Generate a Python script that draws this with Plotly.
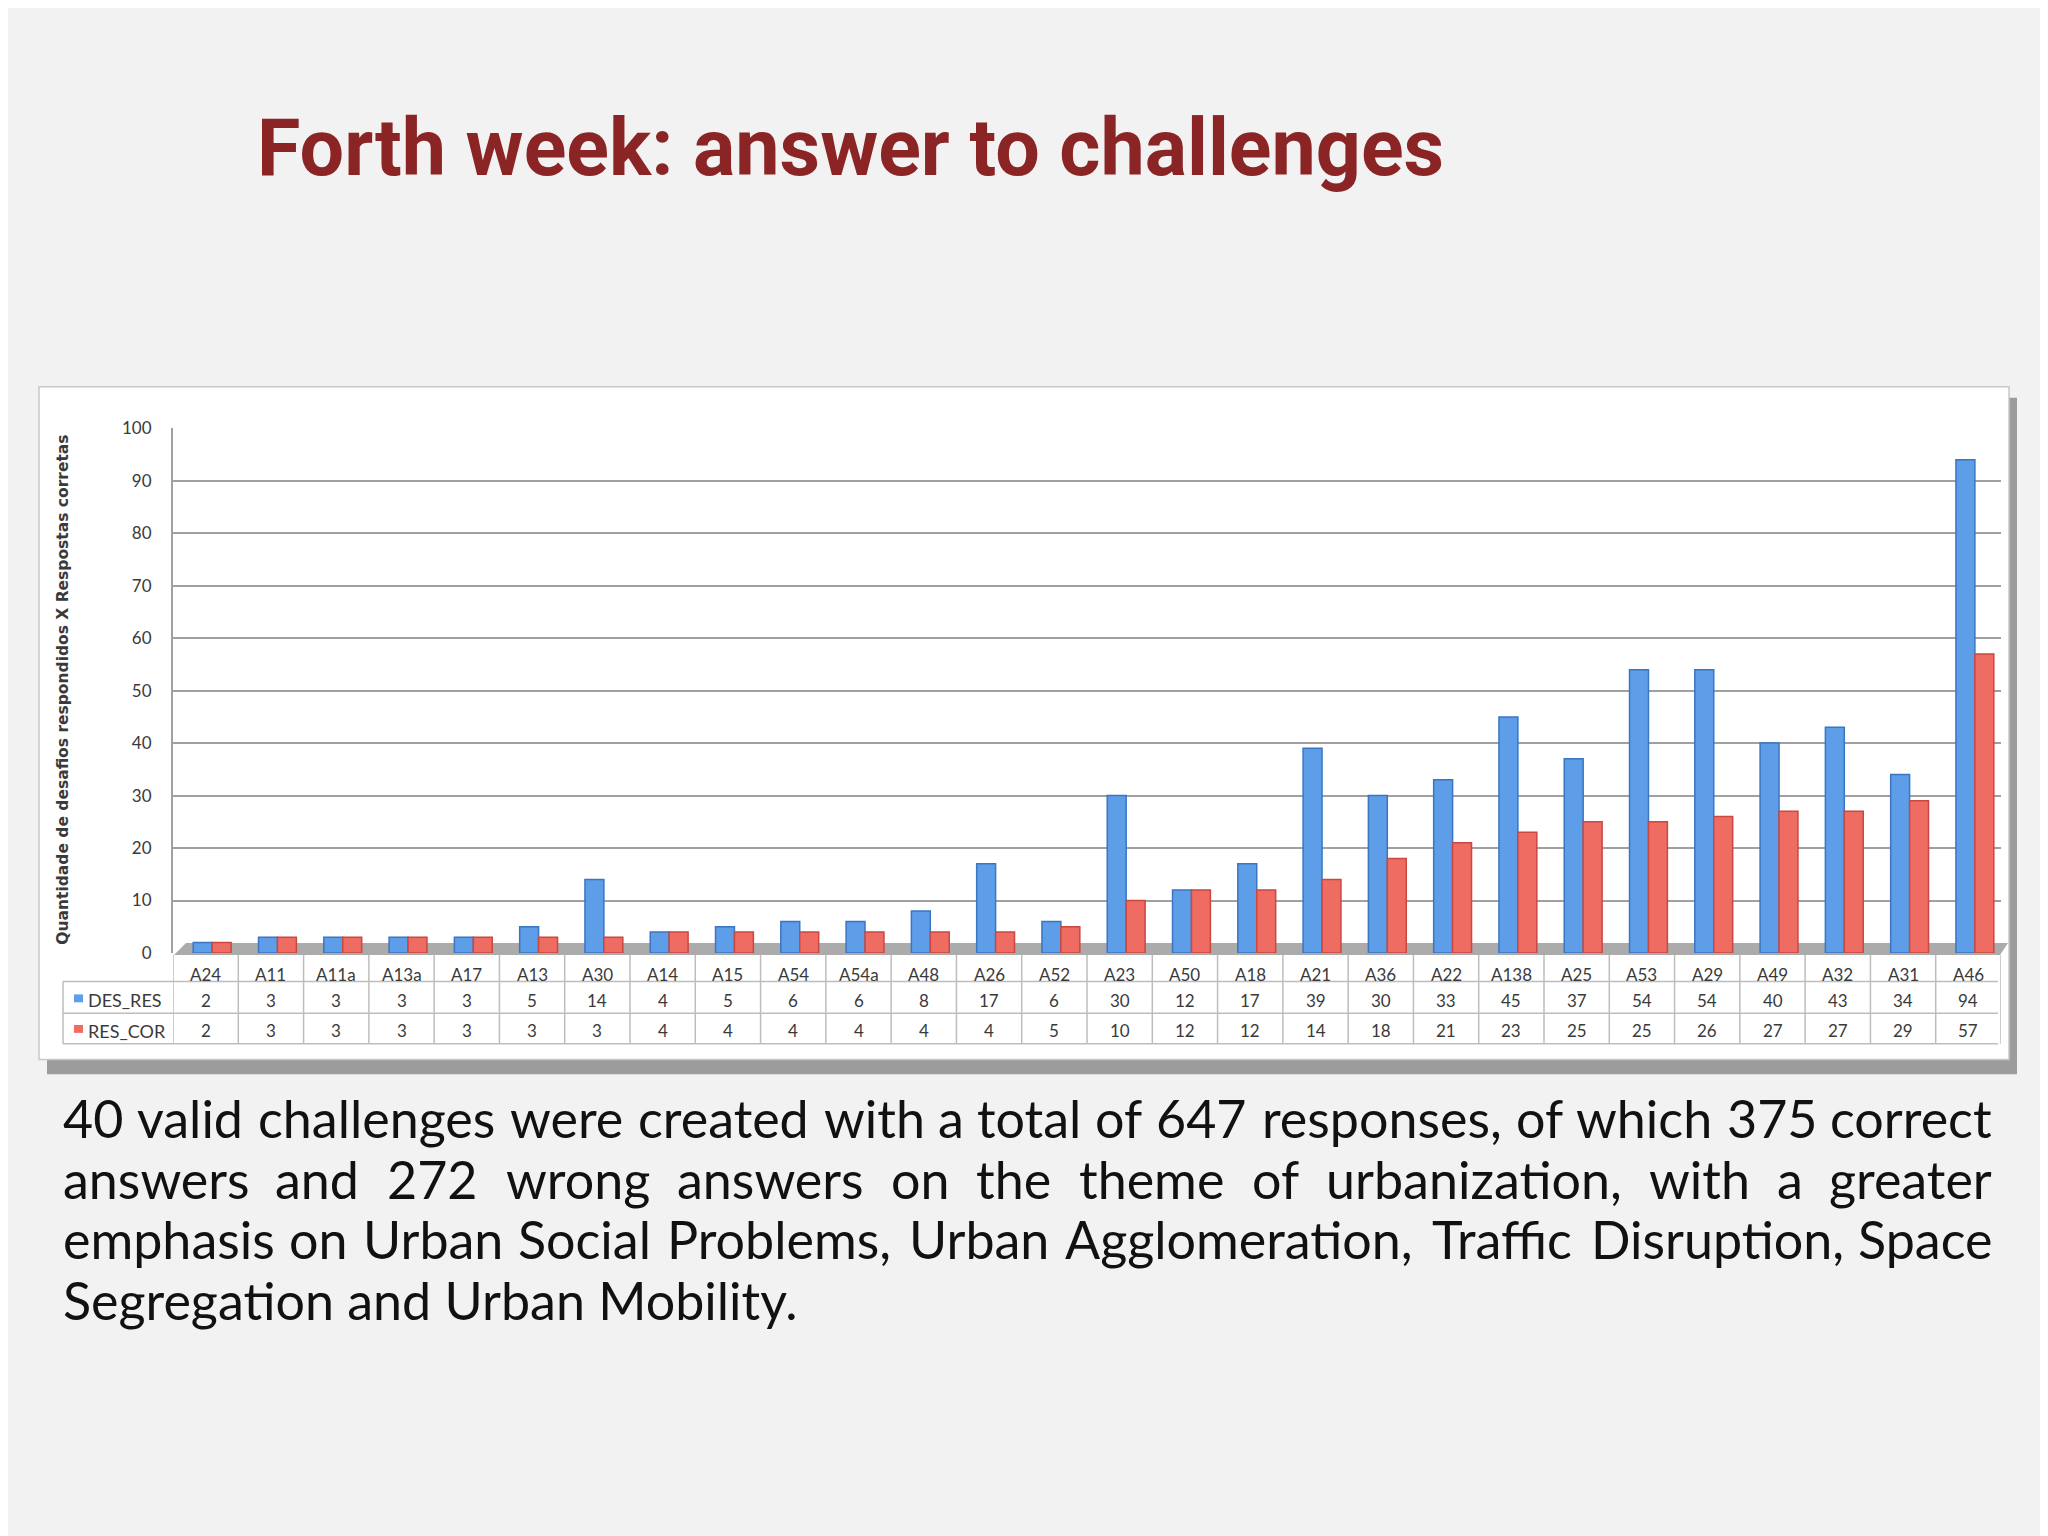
import plotly.graph_objects as go

# ---------------- data ----------------
categories = ["A24", "A11", "A11a", "A13a", "A17", "A13", "A30", "A14", "A15", "A54",
              "A54a", "A48", "A26", "A52", "A23", "A50", "A18", "A21", "A36", "A22",
              "A138", "A25", "A53", "A29", "A49", "A32", "A31", "A46"]
des_res = [2, 3, 3, 3, 3, 5, 14, 4, 5, 6, 6, 8, 17, 6, 30, 12, 17, 39, 30, 33,
           45, 37, 54, 54, 40, 43, 34, 94]
res_cor = [2, 3, 3, 3, 3, 3, 3, 4, 4, 4, 4, 4, 4, 5, 10, 12, 12, 14, 18, 21,
           23, 25, 25, 26, 27, 27, 29, 57]
series_names = ["DES_RES", "RES_COR"]
y_tick_values = [0, 10, 20, 30, 40, 50, 60, 70, 80, 90, 100]
title_text = "Forth week: answer to challenges"
y_axis_title = "Quantidade de desafios respondidos X Respostas corretas"
paragraph_lines = [
    "40 valid challenges were created with a total of 647 responses, of which 375 correct",
    "answers and 272 wrong answers on the theme of urbanization, with a greater",
    "emphasis on Urban Social Problems, Urban Agglomeration, Traffic Disruption, Space",
    "Segregation and Urban Mobility.",
]

# ---------------- geometry helpers ----------------
# the page body has an 8px margin, so the figure is drawn 8px in from the window corner
OFF = 8
W, H = 2048 - OFF, 1536 - OFF


def px(x):
    return (x - OFF) / W


def py(y):
    return 1 - (y - OFF) / H


BLUE = "#5E9DE8"
BLUE_EDGE = "#3A76C2"
RED = "#EF6C62"
RED_EDGE = "#C94840"
GRID = "#A0A0A0"
TABLE_LINE = "#BDBDBD"
TEXT_DARK = "#3A3A3A"

PLOT_L, PLOT_R = 173, 2001
Y0_PX, Y100_PX = 955, 423
BAR_W = 0.29

fig = go.Figure()
fig.add_trace(go.Bar(x=categories, y=des_res, name=series_names[0], width=BAR_W, offset=-0.19,
                     marker=dict(color=BLUE, line=dict(color=BLUE_EDGE, width=1.5))))
fig.add_trace(go.Bar(x=categories, y=res_cor, name=series_names[1], width=BAR_W, offset=0.10,
                     marker=dict(color=RED, line=dict(color=RED_EDGE, width=1.5))))

shapes = []
annotations = []

# chart box shadow + box
shapes.append(dict(type="rect", xref="paper", yref="paper", layer="below",
                   x0=px(47), x1=px(2017), y0=py(1078), y1=py(392),
                   fillcolor="#9C9C9C", line=dict(width=0)))
shapes.append(dict(type="rect", xref="paper", yref="paper", layer="below",
                   x0=px(39), x1=px(2009), y0=py(1063), y1=py(381),
                   fillcolor="white", line=dict(color="#C8C8C8", width=1.5)))
# floor of the 3D chart
shapes.append(dict(type="path", xref="paper", yref="paper", layer="below",
                   path=(f"M {px(174)},{py(957)} L {px(2000)},{py(957)} "
                         f"L {px(2008)},{py(945)} L {px(186)},{py(945)} Z"),
                   fillcolor="#ABABAB", line=dict(width=0)))

# data table lines
n = len(categories)
row_top, row1, row2, row_bot = 957, 984, 1016, 1047
LEG_L = 63
for yy in (row1, row2, row_bot):
    shapes.append(dict(type="line", xref="paper", yref="paper",
                       x0=px(LEG_L), x1=px(PLOT_R - 3), y0=py(yy), y1=py(yy),
                       line=dict(color=TABLE_LINE, width=1.5)))
for i in range(n + 1):
    shapes.append(dict(type="line", xref="x", yref="paper",
                       x0=i - 0.5, x1=i - 0.5, y0=py(row_top), y1=py(row_bot),
                       line=dict(color=TABLE_LINE, width=1.5)))
shapes.append(dict(type="line", xref="paper", yref="paper",
                   x0=px(LEG_L), x1=px(LEG_L), y0=py(row1), y1=py(row_bot),
                   line=dict(color=TABLE_LINE, width=1.5)))

tfont = dict(family="Lato, sans-serif", size=17, color=TEXT_DARK)
for i, c in enumerate(categories):
    annotations.append(dict(x=c, xref="x", y=py(977), yref="paper", text=c,
                            showarrow=False, font=tfont, xanchor="center", yanchor="middle"))
    annotations.append(dict(x=c, xref="x", y=py(1003), yref="paper", text=str(des_res[i]),
                            showarrow=False, font=tfont, xanchor="center", yanchor="middle"))
    annotations.append(dict(x=c, xref="x", y=py(1034), yref="paper", text=str(res_cor[i]),
                            showarrow=False, font=tfont, xanchor="center", yanchor="middle"))

# legend keys inside the table
for name, col, yy in ((series_names[0], BLUE, 1001), (series_names[1], RED, 1032)):
    shapes.append(dict(type="rect", xref="paper", yref="paper",
                       x0=px(74), x1=px(83), y0=py(yy + 4), y1=py(yy - 4),
                       fillcolor=col, line=dict(width=0)))
    annotations.append(dict(x=px(86), xref="paper", y=py(yy + 2), yref="paper", text=name,
                            showarrow=False, font=dict(family="Lato, sans-serif", size=18,
                                                       color=TEXT_DARK),
                            xanchor="left", yanchor="middle"))

# y axis title
annotations.append(dict(x=px(63), xref="paper", y=py(688), yref="paper", text=y_axis_title,
                        textangle=-90, showarrow=False,
                        font=dict(family="DejaVu Sans, sans-serif", size=15.5,
                                  color=TEXT_DARK, weight="bold"),
                        xanchor="center", yanchor="middle"))

# slide title
annotations.append(dict(x=px(255), xref="paper", y=py(139), yref="paper", text=title_text,
                        showarrow=False,
                        font=dict(family="Roboto, Liberation Sans, sans-serif",
                                  size=79, color="#8B2424", weight="bold"),
                        xanchor="left", yanchor="middle"))

# paragraph (justified by placing words)
PFONT = dict(family="Lato, Noto Sans, sans-serif", size=52, color="#111111")
EM = PFONT["size"]
LATO_W = {
    "a": .48, "b": .55, "c": .45, "d": .55, "e": .52, "f": .32, "g": .50, "h": .55,
    "i": .24, "j": .24, "k": .50, "l": .24, "m": .82, "n": .55, "o": .55, "p": .55,
    "q": .55, "r": .36, "s": .42, "t": .35, "u": .55, "v": .50, "w": .76, "x": .49,
    "y": .50, "z": .45, "A": .67, "B": .63, "C": .66, "D": .73, "E": .55, "F": .53,
    "G": .71, "H": .75, "I": .29, "M": .88, "P": .60, "S": .52, "T": .58, "U": .71,
    "W": .96, ".": .22, ",": .22,
}


def word_w(w):
    return sum(LATO_W.get(c, 0.58 if c.isdigit() else 0.55) for c in w) * EM * 1.03


P_L, P_R = 61, 1994
line_y = [1122, 1184, 1245, 1307]
for li, line in enumerate(paragraph_lines):
    yy = py(line_y[li])
    words = line.split(" ")
    if li == len(paragraph_lines) - 1:
        annotations.append(dict(x=px(P_L), xref="paper", y=yy, yref="paper", text=line,
                                showarrow=False, font=PFONT, xanchor="left", yanchor="middle"))
        continue
    widths = [word_w(w) for w in words]
    gap = (P_R - P_L - sum(widths)) / (len(words) - 1)
    cur = P_L
    for wi, w in enumerate(words):
        if wi == 0:
            annotations.append(dict(x=px(P_L), xref="paper", y=yy, yref="paper", text=w,
                                    showarrow=False, font=PFONT, xanchor="left", yanchor="middle"))
        elif wi == len(words) - 1:
            annotations.append(dict(x=px(P_R), xref="paper", y=yy, yref="paper", text=w,
                                    showarrow=False, font=PFONT, xanchor="right", yanchor="middle"))
        else:
            annotations.append(dict(x=px(cur + widths[wi] / 2), xref="paper", y=yy, yref="paper",
                                    text=w, showarrow=False, font=PFONT,
                                    xanchor="center", yanchor="middle"))
        cur += widths[wi] + gap

fig.update_layout(
    width=W, height=H, autosize=False,
    margin=dict(l=0, r=0, t=0, b=0),
    paper_bgcolor="#F3F2F2",
    plot_bgcolor="rgba(0,0,0,0)",
    showlegend=False,
    barmode="group",
    shapes=shapes, annotations=annotations,
    xaxis=dict(domain=[px(PLOT_L), px(PLOT_R)], range=[-0.5, n - 0.5],
               showticklabels=False, showgrid=False, zeroline=False, showline=False,
               fixedrange=True),
    yaxis=dict(domain=[py(Y0_PX), py(Y100_PX)], range=[0, 100], tickvals=y_tick_values,
               showgrid=True, gridcolor=GRID, gridwidth=2, zeroline=False,
               showline=True, linecolor=GRID, linewidth=2,
               ticks="outside", ticklen=16, tickcolor="rgba(0,0,0,0)",
               tickfont=dict(family="Lato, sans-serif", size=17, color=TEXT_DARK),
               fixedrange=True),
)

fig.write_html("out.html")
